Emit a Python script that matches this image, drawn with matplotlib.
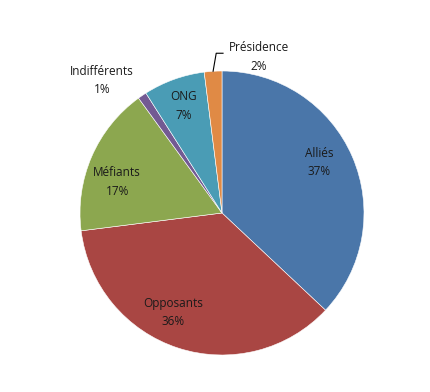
import numpy as np
import matplotlib.pyplot as plt

labels = ["Alliés", "Opposants", "Méfiants", "Indifférents", "ONG", "Présidence"]
values = [37, 36, 17, 1, 7, 2]
colors = ["#4A76A9", "#A94643", "#8CA74F", "#735A93", "#4A9CB5", "#E08A45"]

# distance of the label from the centre (in radii) and a small angle shift
label_r = [0.77, 0.78, 0.77, 1.26, 0.80, 1.13]
label_shift = [4, -8, 7, 8, 0, -17]

fig = plt.figure(figsize=(4.3, 3.92), dpi=100)
ax = fig.add_axes([80 / 430, 37 / 392, 284 / 430, 284 / 392])

wedges, _ = ax.pie(values, colors=colors, startangle=90, counterclock=False,
                   wedgeprops=dict(linewidth=0.4, edgecolor="white"))
ax.set_xlim(-1, 1)
ax.set_ylim(-1, 1)
ax.set_aspect("equal")

for w, lab, v, r, s in zip(wedges, labels, values, label_r, label_shift):
    mid = (w.theta1 + w.theta2) / 2 + s
    x = r * np.cos(np.radians(mid))
    y = r * np.sin(np.radians(mid))
    ax.text(x, y, f"{lab}\n{v}%", ha="center", va="center", fontsize=8.5,
            family="Open Sans", linespacing=1.55, color="#1a1a1a", clip_on=False)
    if lab == "Présidence":
        mid0 = (w.theta1 + w.theta2) / 2
        x0 = np.cos(np.radians(mid0))
        y0 = np.sin(np.radians(mid0))
        ax.plot([x0, x0 + 0.022, x0 + 0.07], [y0, y0 + 0.127, y0 + 0.127],
                color="black", lw=0.8, clip_on=False)

fig.savefig("out.png", dpi=100)
